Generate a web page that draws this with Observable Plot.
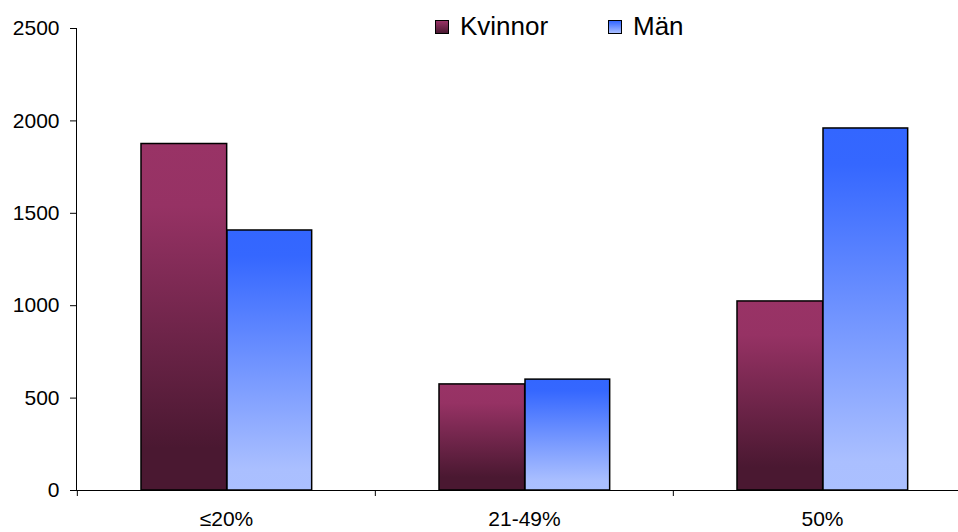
<!DOCTYPE html>
<html>
<head>
<meta charset="utf-8">
<script src="https://cdn.jsdelivr.net/npm/d3@7"></script>
<script src="https://cdn.jsdelivr.net/npm/@observablehq/plot@0.6"></script>
<style>
  html, body { margin: 0; padding: 0; background: #fff; }
  #wrap { position: relative; width: 958px; height: 532px; font-family: "Liberation Sans", Arial, sans-serif; }
  #legend { position: absolute; left: 0; top: 0; }
  .lg { position: absolute; display: flex; align-items: center; font-size: 26px; color: #000; }
  .sw { width: 12px; height: 12px; border: 1px solid #000; margin-right: 11px; }
</style>
</head>
<body>
<div id="wrap">
  <div id="chart"></div>
  <div id="legend"></div>
</div>
<script>
const categories = ["≤20%", "21-49%", "50%"];
const series = ["Kvinnor", "Män"];
const kvinnor = [1875, 574, 1023];
const man = [1407, 600, 1959];
const yTicks = [0, 500, 1000, 1500, 2000, 2500];

const data = [];
categories.forEach((c, i) => {
  data.push({cat: c, serie: "Kvinnor", value: kvinnor[i]});
  data.push({cat: c, serie: "Män", value: man[i]});
});

const W = 958, H = 532;
const left = 76, right = 971;
const bw = (right - left) / categories.length;

const defs = () => {
  const svg = d3.create("svg:defs");
  const gk = svg.append("linearGradient").attr("id", "gK").attr("x1", 0).attr("y1", 0).attr("x2", 0).attr("y2", 1);
  gk.append("stop").attr("offset", "0").attr("stop-color", "#993366");
  gk.append("stop").attr("offset", "0.18").attr("stop-color", "#963264");
  gk.append("stop").attr("offset", "0.88").attr("stop-color", "#4a1831");
  gk.append("stop").attr("offset", "1").attr("stop-color", "#4a1831");
  const gm = svg.append("linearGradient").attr("id", "gM").attr("x1", 0).attr("y1", 0).attr("x2", 0).attr("y2", 1);
  gm.append("stop").attr("offset", "0").attr("stop-color", "#3366ff");
  gm.append("stop").attr("offset", "0.1").attr("stop-color", "#3567ff");
  gm.append("stop").attr("offset", "0.92").attr("stop-color", "#aabfff");
  gm.append("stop").attr("offset", "1").attr("stop-color", "#abc0ff");
  return svg.node();
};

const chart = Plot.plot({
  width: W,
  height: H,
  marginTop: 28,
  marginBottom: 42,
  marginLeft: left,
  marginRight: 0,
  style: {fontFamily: "Liberation Sans, Arial, sans-serif", fontSize: "21px", color: "#000", background: "#fff"},
  x: {domain: categories, range: [left, right], padding: 0, label: null},
  y: {domain: [0, 2500], label: null},
  marks: [
    defs,
    Plot.barY(data.filter(d => d.serie === "Kvinnor"), {
      x: "cat", y: "value", fill: "url(#gK)", stroke: "#000", strokeWidth: 1.5,
      insetLeft: 64, insetRight: bw - 64 - 86
    }),
    Plot.barY(data.filter(d => d.serie === "Män"), {
      x: "cat", y: "value", fill: "url(#gM)", stroke: "#000", strokeWidth: 1.5,
      insetLeft: 150, insetRight: bw - 150 - 85
    }),
    Plot.ruleY([0], {stroke: "#000", strokeWidth: 1}),
    Plot.frame({anchor: "left", stroke: "#000", strokeWidth: 1}),
    Plot.axisY({ticks: yTicks, tickSize: 6, tickPadding: 11, tickFormat: d => String(d), stroke: "#000", fontSize: 21}),
    Plot.axisX({tickSize: 0, tickPadding: 21, fontSize: 21}),
    Plot.axisX({tickSize: 6, tickFormat: () => "", dx: -bw / 2, stroke: "#000"})
  ]
});
document.getElementById("chart").appendChild(chart);

const legend = document.getElementById("legend");
const lgPos = [{x: 435}, {x: 608}];
const lgColors = {Kvinnor: "linear-gradient(#993366, #4a1831)", "Män": "linear-gradient(#3366ff, #aabfff)"};
series.forEach((s, i) => {
  const item = document.createElement("div");
  item.className = "lg";
  item.style.left = lgPos[i].x + "px";
  item.style.top = "11px";
  const sw = document.createElement("div");
  sw.className = "sw";
  sw.style.background = lgColors[s];
  const t = document.createElement("span");
  t.textContent = s;
  item.appendChild(sw);
  item.appendChild(t);
  legend.appendChild(item);
});
</script>
</body>
</html>
